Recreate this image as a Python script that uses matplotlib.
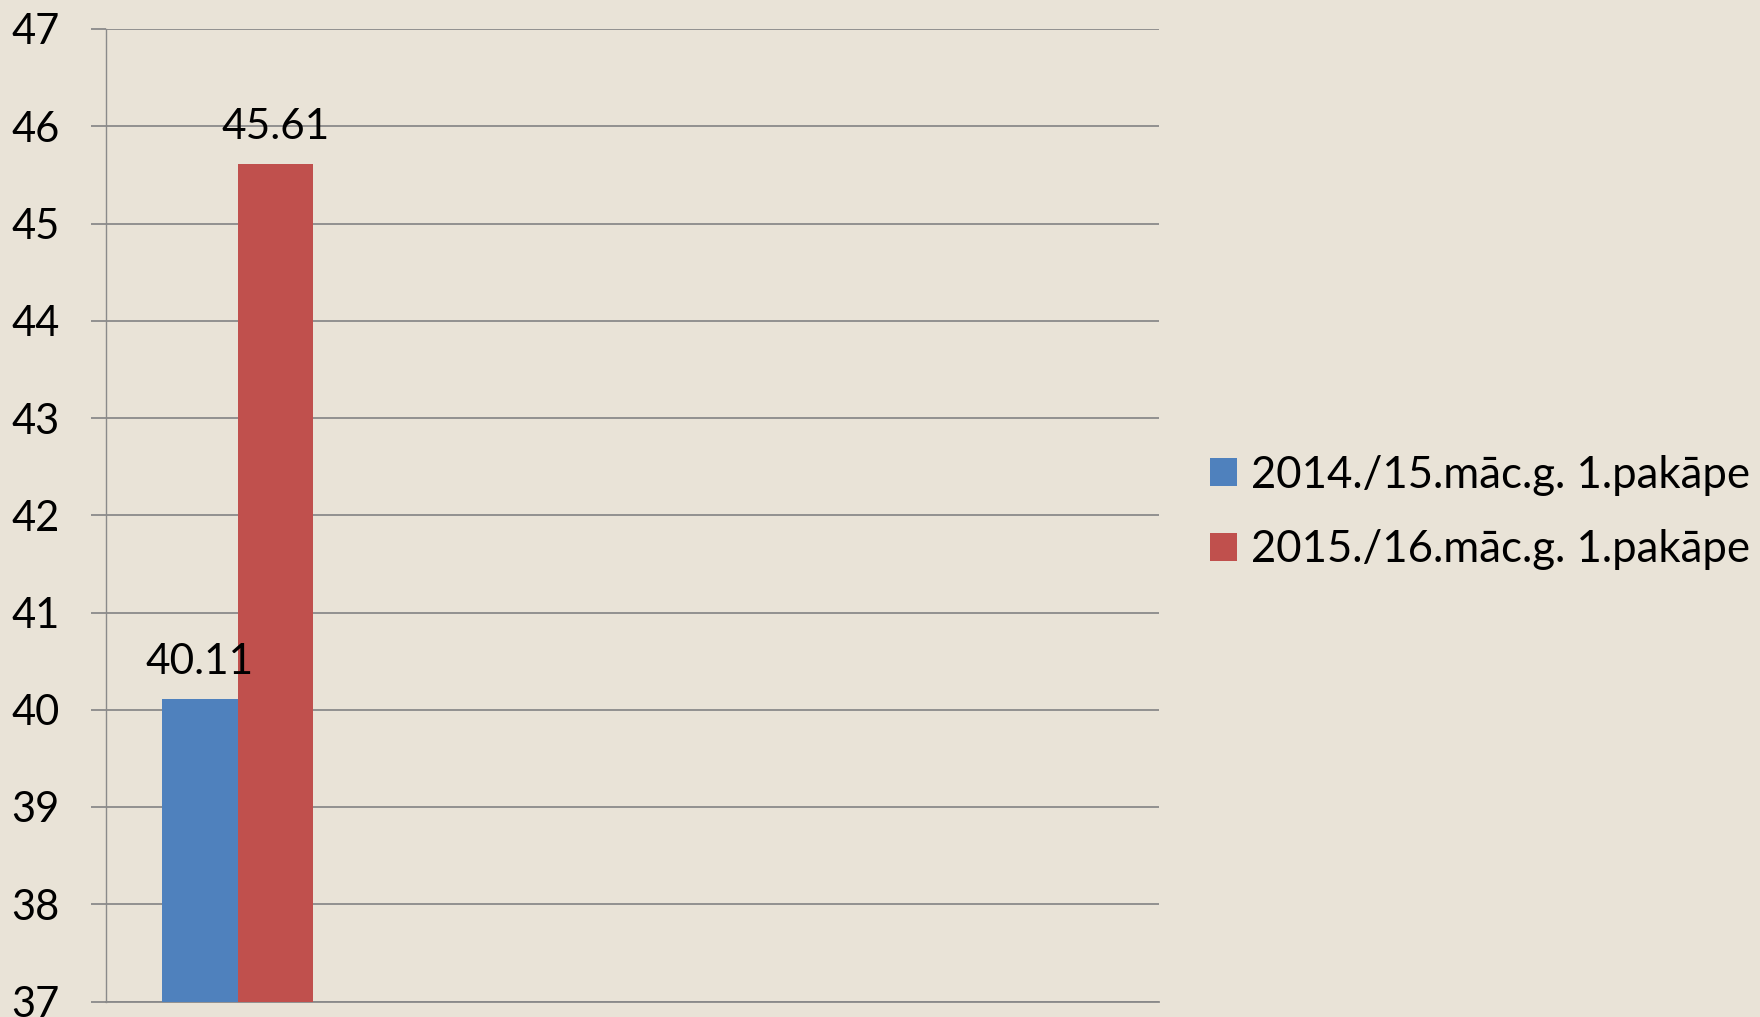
import matplotlib
matplotlib.use("Agg")
import matplotlib.pyplot as plt
from matplotlib.patches import Patch
import numpy as np

# ---- data ----
categories = [""]
series_names = ["2014./15.māc.g. 1.pakāpe", "2015./16.māc.g. 1.pakāpe"]
values_2014 = [40.11]
values_2015 = [45.61]
series_values = [values_2014, values_2015]
series_colors = ["#4F81BD", "#C0504D"]
y_ticks = [37, 38, 39, 40, 41, 42, 43, 44, 45, 46, 47]

# ---- style ----
BG = "#E9E3D7"
GRID = "#8A8A8A"
FS_TICK = 30
FS_LABEL = 30.5
FS_LEG = 31.5
plt.rcParams['font.family'] = ['Lato', 'DejaVu Sans']

W, H, DPI = 1760, 1017, 100
fig = plt.figure(figsize=(W / DPI, H / DPI), dpi=DPI, facecolor=BG)
ax = fig.add_axes([105.5 / W, 1 - 1001.5 / H, (1159 - 105.5) / W, (1001.5 - 29) / H])
ax.set_facecolor(BG)

x = np.arange(len(categories))
width = 0.35
unit = 75.5 / width  # px per data unit
for i, (name, vals, col) in enumerate(zip(series_names, series_values, series_colors)):
    pos = x + (i - 0.5) * width
    ax.bar(pos, np.array(vals) - y_ticks[0], width=width, bottom=y_ticks[0],
           color=col, label=name, zorder=3, linewidth=0)
    for px, v in zip(pos, vals):
        ax.annotate(f"{v:.2f}", xy=(px, v), xytext=(0, 25 * 72 / DPI),
                    textcoords="offset points", ha="center", va="baseline",
                    fontsize=FS_LABEL, color="black", zorder=4)

ax.set_ylim(y_ticks[0], y_ticks[-1])
ax.set_yticks(y_ticks)
ax.set_yticklabels([str(t) for t in y_ticks])
ax.set_xlim(-(237.5 - 105.5) / unit, (1159 - 237.5) / unit)
ax.set_xticks([])

ax.yaxis.grid(True, color=GRID, linewidth=1.3, zorder=1)
ax.set_axisbelow(True)
ax.tick_params(axis='y', direction='out', length=15 * 72 / DPI, width=1.3, color=GRID,
               labelsize=FS_TICK, pad=31 * 72 / DPI, labelcolor='black')
for s in ["top", "right"]:
    ax.spines[s].set_visible(False)
ax.spines["left"].set_color(GRID)
ax.spines["left"].set_linewidth(1.0)
ax.spines["bottom"].set_color(GRID)
ax.spines["bottom"].set_linewidth(1.3)

handles = [Patch(facecolor=c, edgecolor='none') for c in series_colors]
fig.legend(handles, series_names, loc="center left",
           bbox_to_anchor=(1210 / W, 1 - 512.5 / H), frameon=False,
           fontsize=FS_LEG, handlelength=0.617, handleheight=0.617,
           handletextpad=0.32, labelspacing=0.77, borderpad=0, borderaxespad=0)

fig.savefig("out.png", dpi=DPI, facecolor=BG)
